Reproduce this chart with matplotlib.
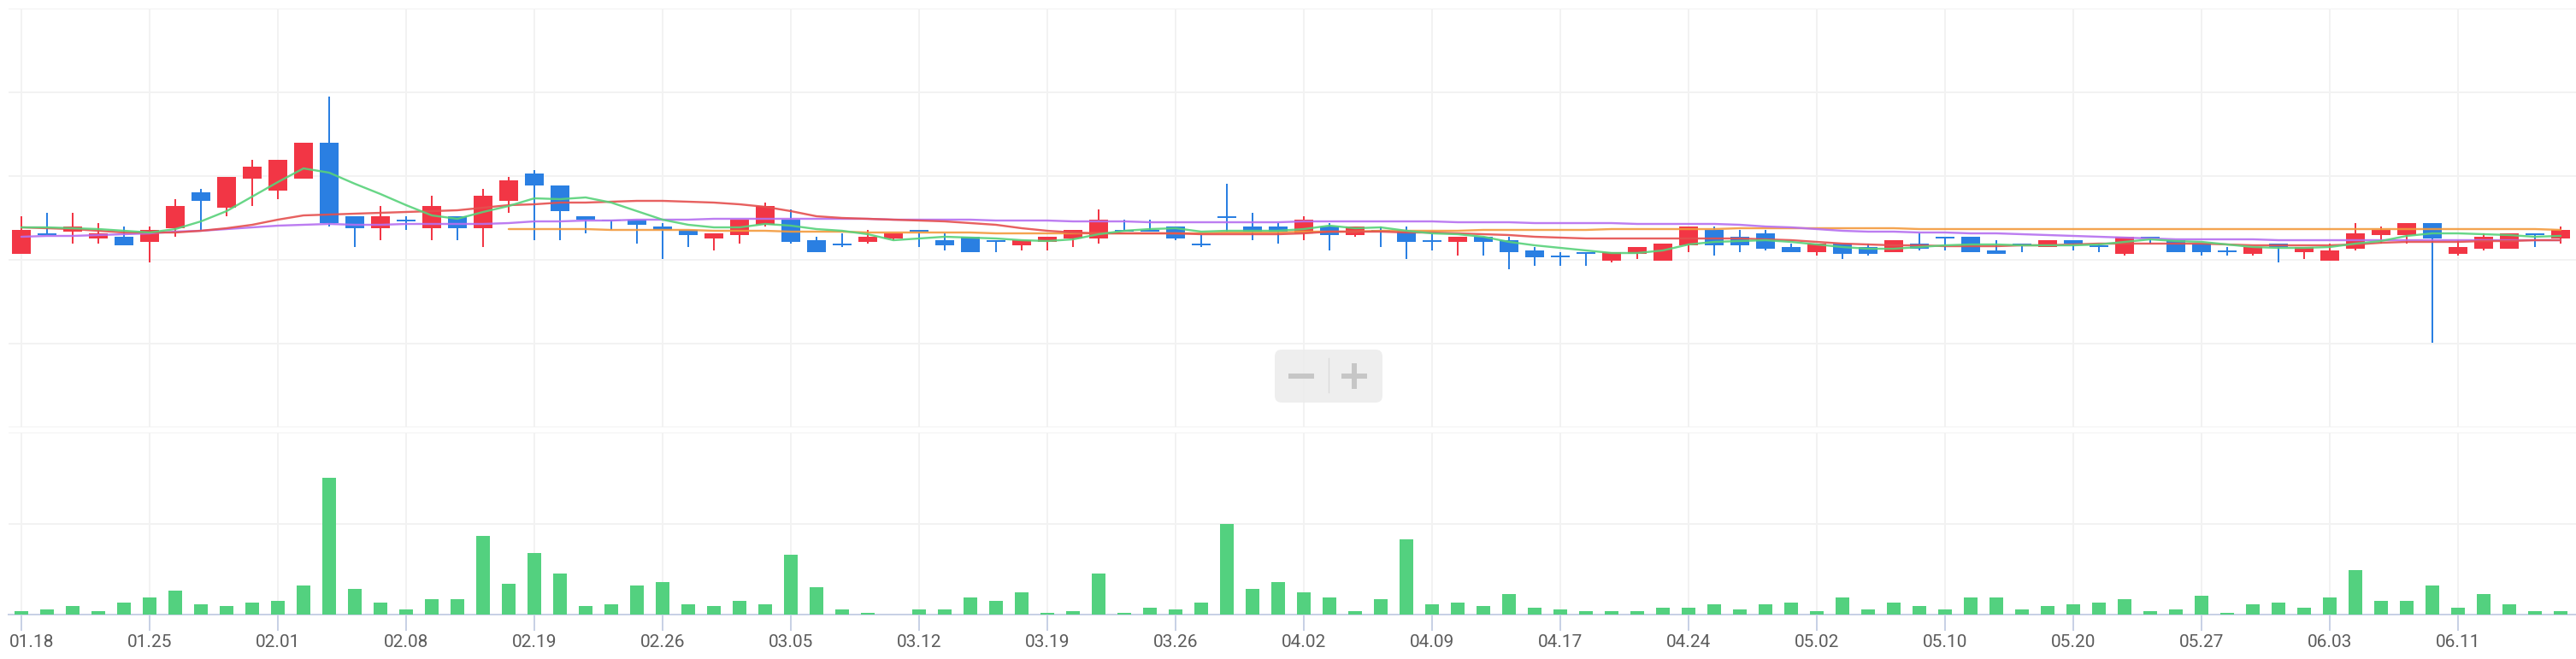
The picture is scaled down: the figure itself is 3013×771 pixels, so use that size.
import matplotlib
matplotlib.use("Agg")
import matplotlib.pyplot as plt
import numpy as np
from matplotlib.patches import FancyBboxPatch
from matplotlib.transforms import ScaledTranslation

plt.rcParams["font.family"] = ["Roboto", "DejaVu Sans"]

# ---- data ----
open_ = [5.03, 5.27, 5.29, 5.21, 5.23, 5.17, 5.33, 5.75, 5.57, 5.91,
         5.77, 5.91, 6.33, 5.47, 5.33, 5.43, 5.33, 5.47, 5.33, 5.65,
         5.97, 5.83, 5.47, 5.43, 5.43, 5.35, 5.31, 5.21, 5.25, 5.37,
         5.43, 5.19, 5.15, 5.17, 5.21, 5.31, 5.19, 5.23, 5.19, 5.13,
         5.17, 5.21, 5.21, 5.31, 5.31, 5.35, 5.15, 5.47, 5.35, 5.35,
         5.27, 5.35, 5.25, 5.31, 5.29, 5.19, 5.17, 5.23, 5.19, 5.07,
         5.01, 5.05, 4.95, 5.03, 4.95, 5.13, 5.31, 5.23, 5.27, 5.11,
         5.05, 5.15, 5.11, 5.05, 5.15, 5.23, 5.23, 5.07, 5.15, 5.11,
         5.19, 5.13, 5.03, 5.23, 5.19, 5.15, 5.07, 5.03, 5.15, 5.05,
         4.95, 5.09, 5.25, 5.25, 5.39, 5.03, 5.09, 5.09, 5.27, 5.21]
close = [5.31, 5.25, 5.35, 5.27, 5.13, 5.31, 5.59, 5.65, 5.93, 6.05,
         6.13, 6.33, 5.39, 5.33, 5.47, 5.41, 5.59, 5.33, 5.71, 5.89,
         5.83, 5.53, 5.43, 5.42, 5.37, 5.31, 5.25, 5.27, 5.43, 5.59,
         5.17, 5.05, 5.13, 5.23, 5.27, 5.29, 5.13, 5.05, 5.17, 5.19,
         5.23, 5.31, 5.43, 5.29, 5.29, 5.21, 5.13, 5.45, 5.29, 5.29,
         5.43, 5.25, 5.35, 5.29, 5.17, 5.17, 5.23, 5.17, 5.05, 4.99,
         4.99, 5.03, 5.05, 5.11, 5.15, 5.35, 5.13, 5.13, 5.09, 5.05,
         5.15, 5.03, 5.03, 5.19, 5.09, 5.21, 5.05, 5.03, 5.13, 5.19,
         5.15, 5.11, 5.23, 5.21, 5.05, 5.05, 5.05, 5.11, 5.11, 5.11,
         5.07, 5.27, 5.31, 5.39, 5.21, 5.11, 5.23, 5.27, 5.25, 5.31]
high = [5.47, 5.51, 5.51, 5.39, 5.35, 5.35, 5.67, 5.79, 5.93, 6.13,
        6.13, 6.33, 6.87, 5.47, 5.59, 5.47, 5.71, 5.47, 5.79, 5.93,
        6.01, 5.83, 5.47, 5.43, 5.43, 5.39, 5.31, 5.27, 5.43, 5.63,
        5.55, 5.23, 5.27, 5.31, 5.27, 5.31, 5.27, 5.23, 5.19, 5.19,
        5.23, 5.31, 5.55, 5.43, 5.43, 5.35, 5.25, 5.85, 5.51, 5.39,
        5.47, 5.39, 5.35, 5.35, 5.35, 5.27, 5.23, 5.23, 5.23, 5.11,
        5.05, 5.05, 5.05, 5.11, 5.15, 5.35, 5.35, 5.31, 5.31, 5.15,
        5.15, 5.15, 5.15, 5.19, 5.27, 5.23, 5.23, 5.19, 5.15, 5.19,
        5.19, 5.15, 5.23, 5.23, 5.19, 5.15, 5.11, 5.11, 5.15, 5.11,
        5.15, 5.39, 5.35, 5.39, 5.39, 5.19, 5.27, 5.27, 5.27, 5.35]
low = [5.03, 5.25, 5.15, 5.15, 5.13, 4.93, 5.23, 5.31, 5.47, 5.59,
       5.67, 5.91, 5.35, 5.11, 5.19, 5.31, 5.19, 5.19, 5.11, 5.51,
       5.19, 5.19, 5.27, 5.31, 5.15, 4.97, 5.11, 5.07, 5.15, 5.35,
       5.15, 5.05, 5.11, 5.15, 5.19, 5.11, 5.07, 5.05, 5.05, 5.07,
       5.07, 5.11, 5.15, 5.29, 5.29, 5.19, 5.11, 5.29, 5.19, 5.15,
       5.19, 5.07, 5.23, 5.11, 4.97, 5.07, 5.01, 5.01, 4.85, 4.89,
       4.89, 4.89, 4.93, 4.97, 4.95, 5.05, 5.01, 5.05, 5.07, 5.05,
       5.01, 4.97, 5.01, 5.05, 5.07, 5.07, 5.05, 5.03, 5.05, 5.11,
       5.07, 5.05, 5.01, 5.15, 5.05, 5.01, 5.01, 5.01, 4.93, 4.97,
       4.95, 5.07, 5.15, 5.15, 3.99, 5.01, 5.07, 5.09, 5.11, 5.15]

ma5 = [5.34, 5.34, 5.33, 5.32, 5.30, 5.28, 5.32, 5.41, 5.53, 5.70,
       5.87, 6.03, 5.98, 5.85, 5.73, 5.60, 5.48, 5.44, 5.52, 5.59,
       5.68, 5.67, 5.69, 5.63, 5.53, 5.43, 5.37, 5.34, 5.34, 5.38,
       5.36, 5.32, 5.30, 5.26, 5.19, 5.21, 5.23, 5.22, 5.21, 5.19,
       5.18, 5.20, 5.26, 5.30, 5.32, 5.33, 5.29, 5.30, 5.30, 5.30,
       5.32, 5.36, 5.33, 5.34, 5.30, 5.27, 5.26, 5.23, 5.17, 5.13,
       5.10, 5.07, 5.04, 5.04, 5.07, 5.14, 5.17, 5.18, 5.19, 5.17,
       5.14, 5.11, 5.09, 5.09, 5.11, 5.13, 5.14, 5.14, 5.13, 5.13,
       5.13, 5.14, 5.17, 5.20, 5.18, 5.17, 5.14, 5.11, 5.10, 5.10,
       5.11, 5.15, 5.18, 5.24, 5.27, 5.27, 5.26, 5.25, 5.23, 5.24]
ma10 = [5.34, 5.33, 5.32, 5.30, 5.28, 5.28, 5.28, 5.30, 5.33, 5.37,
        5.43, 5.48, 5.49, 5.50, 5.51, 5.52, 5.53, 5.54, 5.57, 5.60,
        5.61, 5.63, 5.63, 5.64, 5.65, 5.65, 5.64, 5.63, 5.61, 5.58,
        5.53, 5.47, 5.45, 5.44, 5.43, 5.42, 5.41, 5.39, 5.37, 5.33,
        5.30, 5.28, 5.27, 5.27, 5.27, 5.27, 5.26, 5.26, 5.26, 5.26,
        5.27, 5.29, 5.29, 5.29, 5.28, 5.28, 5.27, 5.26, 5.25, 5.23,
        5.22, 5.21, 5.21, 5.21, 5.21, 5.21, 5.21, 5.21, 5.20, 5.19,
        5.17, 5.15, 5.14, 5.13, 5.13, 5.12, 5.12, 5.12, 5.13, 5.13,
        5.14, 5.15, 5.15, 5.15, 5.15, 5.15, 5.14, 5.13, 5.13, 5.13,
        5.13, 5.14, 5.16, 5.17, 5.17, 5.17, 5.18, 5.18, 5.19, 5.19]
ma20 = [5.23, 5.24, 5.24, 5.25, 5.26, 5.27, 5.29, 5.30, 5.32, 5.34,
        5.36, 5.37, 5.38, 5.37, 5.37, 5.38, 5.38, 5.38, 5.38, 5.39,
        5.41, 5.41, 5.42, 5.42, 5.43, 5.43, 5.43, 5.44, 5.44, 5.44,
        5.44, 5.44, 5.44, 5.44, 5.43, 5.43, 5.43, 5.43, 5.42, 5.42,
        5.42, 5.41, 5.41, 5.41, 5.40, 5.40, 5.40, 5.40, 5.40, 5.40,
        5.41, 5.41, 5.41, 5.41, 5.41, 5.41, 5.40, 5.40, 5.40, 5.39,
        5.39, 5.39, 5.39, 5.38, 5.38, 5.38, 5.38, 5.37, 5.35, 5.34,
        5.32, 5.30, 5.29, 5.29, 5.28, 5.28, 5.27, 5.27, 5.26, 5.25,
        5.24, 5.23, 5.22, 5.21, 5.20, 5.20, 5.20, 5.20, 5.19, 5.19,
        5.19, 5.19, 5.19, 5.19, 5.19, 5.19, 5.19, 5.19, 5.19, 5.19]
nan = np.nan
ma60 = [nan] * 19 + [
    5.32, 5.32, 5.32, 5.32, 5.31, 5.31, 5.31, 5.31, 5.30, 5.30, 5.30,
    5.29, 5.29, 5.29, 5.28, 5.28, 5.28, 5.28, 5.28, 5.27, 5.27,
    5.27, 5.27, 5.27, 5.27, 5.27, 5.27, 5.27, 5.28, 5.28, 5.28,
    5.29, 5.29, 5.29, 5.30, 5.30, 5.30, 5.30, 5.31, 5.31, 5.31,
    5.31, 5.31, 5.32, 5.32, 5.32, 5.32, 5.32, 5.33, 5.33, 5.33,
    5.33, 5.33, 5.33, 5.33, 5.32, 5.32, 5.32, 5.32, 5.32, 5.32,
    5.32, 5.32, 5.32, 5.32, 5.32, 5.32, 5.32, 5.32, 5.32, 5.32,
    5.32, 5.32, 5.32, 5.32, 5.32, 5.32, 5.32, 5.32, 5.32, 5.31]

volume = [400, 600, 1000, 400, 1400, 2000, 2800, 1200, 1000, 1400,
          1600, 3400, 16000, 3000, 1400, 600, 1800, 1800, 9200, 3600,
          7200, 4800, 1000, 1200, 3400, 3800, 1200, 1000, 1600, 1200,
          7000, 3200, 600, 200, 0, 600, 600, 2000, 1600, 2600,
          200, 400, 4800, 200, 800, 600, 1400, 10600, 3000, 3800,
          2600, 2000, 400, 1800, 8800, 1200, 1400, 1000, 2400, 800,
          600, 400, 400, 400, 800, 800, 1200, 600, 1200, 1400,
          400, 2000, 600, 1400, 1000, 600, 2000, 2000, 600, 1000,
          1200, 1400, 1800, 400, 600, 2200, 200, 1200, 1400, 800,
          2000, 5200, 1600, 1600, 3400, 800, 2400, 1200, 400, 400]

tick_idx = list(range(0, 100, 5))
tick_labels = ["01.18", "01.25", "02.01", "02.08", "02.19", "02.26", "03.05",
               "03.12", "03.19", "03.26", "04.02", "04.09", "04.17", "04.24",
               "05.02", "05.10", "05.20", "05.27", "06.03", "06.11"]

# ---- layout ----
W, H, DPI = 3013, 771, 100
PX = 72 / DPI
UP, DOWN = "#f23645", "#2a7fe2"
GRID = "#f2f2f2"
AXIS = "#c8d1e5"

fig = plt.figure(figsize=(W / DPI, H / DPI), dpi=DPI)


def px_axes(x0, y0, x1, y1):
    return fig.add_axes([x0 / W, 1 - y1 / H, (x1 - x0) / W, (y1 - y0) / H])


ax = px_axes(10, 10, W, 500)
axv = px_axes(10, 506, W, 719)

o = np.array(open_)
c = np.array(close)
x = np.arange(len(o))
up = c >= o
cols = np.where(up, UP, DOWN)

for a in (ax, axv):
    a.set_xlim(-0.5, 99.6)
    a.set_xticks(tick_idx)
    for s in a.spines.values():
        s.set_visible(False)
    a.grid(True, color=GRID, lw=2 * PX, zorder=0)
    a.set_axisbelow(True)

# price panel
ax.set_ylim(3.0, 7.9)
ax.set_yticks(np.linspace(3.0, 7.9, 6))
ax.tick_params(length=0, labelbottom=False, labelleft=False)

ax.vlines(x, low, high, colors=cols, lw=2 * PX, zorder=2)
body_lo = np.minimum(o, c)
body_h = np.maximum(np.abs(c - o), 0.015)
ax.bar(x, body_h, bottom=body_lo, width=22 / 30, color=cols, lw=0, zorder=3)

for ma, col in [(ma60, "#f39a3d"), (ma20, "#b56ff0"), (ma10, "#e5504f"), (ma5, "#58d27a")]:
    ax.plot(x, ma, color=col, lw=2.4 * PX, alpha=0.9, zorder=4,
            solid_joinstyle="round", solid_capstyle="round")

# volume panel
axv.set_ylim(0, 21300)
axv.set_yticks([0, 10650, 21300])
axv.bar(x, volume, width=16 / 30, color="#53d17f", lw=0, zorder=3)
axv.spines["bottom"].set_visible(True)
axv.spines["bottom"].set_color(AXIS)
axv.spines["bottom"].set_linewidth(2 * PX)
axv.set_xticklabels(tick_labels)
axv.tick_params(axis="x", length=19 * PX, width=2 * PX, color=AXIS,
                labelcolor="#5c5c5c", labelsize=15, pad=4 * PX)
axv.tick_params(axis="y", length=0, labelleft=False)
first = axv.get_xticklabels()[0]
first.set_horizontalalignment("left")
first.set_transform(first.get_transform() +
                    ScaledTranslation(-14 / DPI, 0, fig.dpi_scale_trans))

# zoom widget (-|+)
ui = fig.add_axes([0, 0, 1, 1])
ui.set_xlim(0, W)
ui.set_ylim(H, 0)
ui.axis("off")
ui.patch.set_alpha(0)
ui.add_patch(FancyBboxPatch((1491, 409), 126, 62, boxstyle="round,pad=0,rounding_size=8",
                            fc="#ececec", ec="none", alpha=0.85))
ui.plot([1507, 1537], [440, 440], color="#c6c6c6", lw=6 * PX, solid_capstyle="butt")
ui.plot([1569, 1599], [440, 440], color="#c6c6c6", lw=6 * PX, solid_capstyle="butt")
ui.plot([1584, 1584], [425, 455], color="#c6c6c6", lw=6 * PX, solid_capstyle="butt")
ui.plot([1554, 1554], [419, 459], color="#dadada", lw=1.2 * PX)

fig.savefig("out.png", dpi=DPI)
